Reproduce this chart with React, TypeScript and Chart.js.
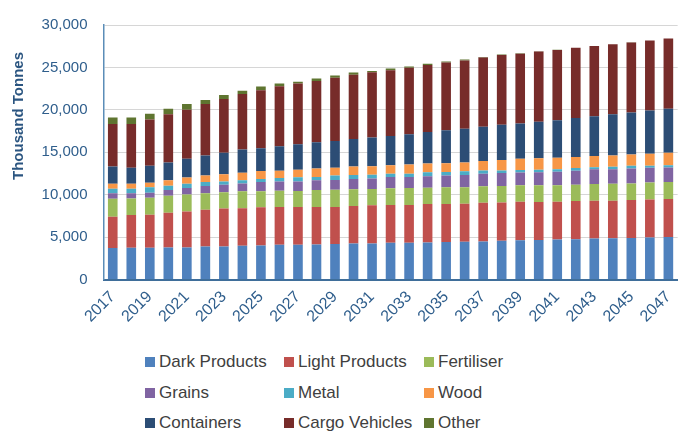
import React, { useEffect, useRef } from "react";
import { Chart, registerables } from "chart.js";

Chart.register(...registerables);

const years = ["2017","2018","2019","2020","2021","2022","2023","2024","2025","2026","2027","2028","2029","2030","2031","2032","2033","2034","2035","2036","2037","2038","2039","2040","2041","2042","2043","2044","2045","2046","2047"];

const darkProducts = [3710,3750,3750,3780,3780,3900,3900,3980,4010,4090,4090,4130,4180,4240,4240,4330,4330,4360,4410,4440,4480,4560,4630,4670,4710,4750,4820,4870,4900,4940,5020];
const lightProducts = [3690,3840,3890,4090,4240,4310,4460,4420,4500,4470,4470,4430,4380,4430,4500,4460,4460,4540,4490,4500,4570,4530,4540,4460,4460,4500,4460,4410,4470,4490,4460];
const fertiliser = [2120,1960,1990,1990,1990,1960,1930,2000,1890,1910,1880,1990,2030,1960,1930,1960,1990,1920,1970,1930,1930,1920,1930,1970,1930,1920,1970,2000,1960,2010,2000];
const grains = [650,620,610,690,770,840,880,930,1080,1090,1120,1160,1150,1230,1230,1340,1310,1350,1380,1450,1500,1550,1500,1530,1610,1660,1760,1730,1760,1730,1730];
const metal = [530,530,620,500,500,470,390,380,380,410,490,380,510,460,460,390,390,460,410,430,380,300,300,320,300,300,230,280,310,230,260];
const wood = [580,580,540,660,740,770,840,880,920,850,890,1000,920,1000,1000,990,1070,1040,1040,1030,1120,1230,1340,1350,1350,1310,1320,1340,1340,1420,1470];
const containers = [2040,1890,2000,2070,2220,2380,2540,2730,2700,2890,3000,3080,3150,3230,3390,3460,3580,3720,3890,4000,4020,4160,4160,4290,4420,4610,4680,4840,4960,5110,5190];
const cargoVehicles = [5000,5150,5460,5690,5770,6070,6340,6540,6840,7070,7150,7220,7460,7580,7680,7730,7840,7890,7990,8030,8160,8220,8220,8290,8270,8260,8270,8250,8240,8230,8270];
const other = [770,770,690,660,690,470,460,380,420,310,230,310,270,260,160,200,150,150,120,120,60,50,40,30,30,20,20,20,20,20,20];

const seriesNames = ["Dark Products","Light Products","Fertiliser","Grains","Metal","Wood","Containers","Cargo Vehicles","Other"];
const seriesColors = ["#4F81BD","#C0504D","#9BBB59","#8064A2","#4BACC6","#F79646","#2C4D75","#772C2A","#5F7530"];
const seriesData = [darkProducts, lightProducts, fertiliser, grains, metal, wood, containers, cargoVehicles, other];

const yTitle = "Thousand Tonnes";
const FONT = "'Liberation Sans', Arial, sans-serif";
const TICK_COLOR = "#2F5E8C";

const yTitlePlugin = {
  id: "yTitlePlugin",
  afterDraw(chart: any) {
    const ctx = chart.ctx;
    ctx.save();
    ctx.translate(19, 116);
    ctx.rotate(-Math.PI / 2);
    ctx.font = `bold 15px ${FONT}`;
    ctx.fillStyle = "#2B5580";
    ctx.textAlign = "center";
    ctx.textBaseline = "middle";
    ctx.fillText(yTitle, 0, 0);
    ctx.restore();
  },
};

export default function App() {
  const ref = useRef<HTMLCanvasElement>(null);
  useEffect(() => {
    if (!ref.current) return;
    const chart = new Chart(ref.current, {
      type: "bar",
      data: {
        labels: years,
        datasets: seriesNames.map((name, i) => ({
          label: name,
          data: seriesData[i],
          backgroundColor: seriesColors[i],
          borderWidth: 0,
          barPercentage: 0.52,
          categoryPercentage: 1,
        })),
      },
      options: {
        responsive: false,
        animation: false,
        devicePixelRatio: 1,
        layout: { padding: { top: 19, right: 3.5, bottom: 0, left: 0 } },
        plugins: { legend: { display: false }, tooltip: { enabled: false } },
        scales: {
          x: {
            stacked: true,
            grid: { display: false, drawTicks: false },
            border: { display: true, color: "#3F6E9A", width: 2 },
            ticks: {
              autoSkip: false,
              maxRotation: 45,
              minRotation: 45,
              padding: 8,
              color: TICK_COLOR,
              font: { family: FONT, size: 16 },
              callback: (_v: any, i: number) => (i % 2 === 0 ? years[i] : ""),
            },
            afterFit: (scale: any) => {
              scale.height = 335 - 279.5;
            },
          },
          y: {
            stacked: true,
            min: 0,
            max: 30000,
            grid: { color: "#D6D6D6", lineWidth: 1, drawTicks: false },
            border: { display: true, color: "#5B8DB8", width: 1.5 },
            ticks: {
              stepSize: 5000,
              padding: 16,
              color: TICK_COLOR,
              font: { family: FONT, size: 15 },
              callback: (v: any) => Number(v).toLocaleString("en-US"),
            },
            afterFit: (scale: any) => {
              scale.width = 103.5;
            },
          },
        },
      },
      plugins: [yTitlePlugin],
    });
    return () => chart.destroy();
  }, []);

  const colLeft = [145, 284, 424];
  const rowTop = [362, 393, 423];

  return (
    <div style={{ position: "fixed", left: 0, top: 0, width: 683, height: 433, overflow: "hidden", background: "#fff" }}>
      <canvas ref={ref} width={690} height={335} style={{ position: "absolute", left: 0, top: 0 }} />
      {seriesNames.map((name, i) => {
        const col = i % 3;
        const row = Math.floor(i / 3);
        return (
          <div
            key={name}
            style={{
              position: "absolute",
              left: colLeft[col],
              top: rowTop[row] - 11,
              height: 22,
              display: "flex",
              alignItems: "center",
              fontFamily: FONT,
              fontSize: 17,
              color: "#404040",
              whiteSpace: "nowrap",
            }}
          >
            <span style={{ display: "inline-block", width: 10, height: 10, background: seriesColors[i], marginRight: 4 }} />
            <span>{name}</span>
          </div>
        );
      })}
    </div>
  );
}
